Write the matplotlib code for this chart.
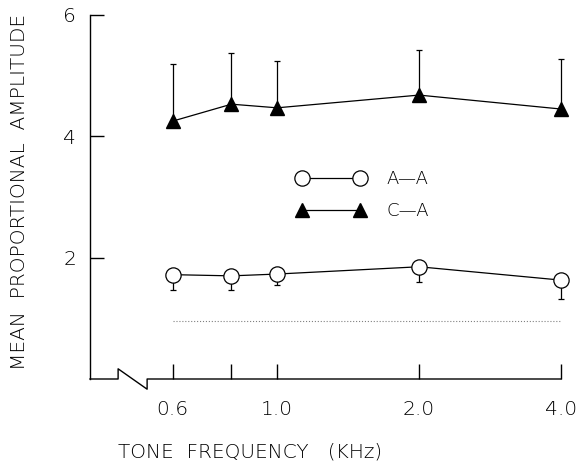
import numpy as np
import matplotlib
matplotlib.use("Agg")
import matplotlib.pyplot as plt
import matplotlib.transforms as mtransforms
from matplotlib.lines import Line2D

# data
freqs = [0.6, 0.8, 1.0, 2.0, 4.0]
aa_mean = [1.72, 1.70, 1.73, 1.85, 1.63]
aa_err = [0.25, 0.23, 0.18, 0.25, 0.31]   # lower bars only
ca_mean = [4.25, 4.53, 4.47, 4.68, 4.45]
ca_err = [0.95, 0.85, 0.78, 0.74, 0.83]   # upper bars only
baseline = 0.95
xtick_vals = [0.6, 0.8, 1.0, 2.0, 4.0]
xtick_labels = ["0.6", "", "1.0", "2.0", "4.0"]
ytick_vals = [2, 4, 6]

plt.rcParams['font.family'] = ['DejaVu Sans']
plt.rcParams['font.weight'] = 200

fig = plt.figure(figsize=(5.79, 4.66), dpi=100)
ax = fig.add_axes([90/579, (466-379)/466, (561-90)/579, (379-15)/466])

ax.set_xscale('log')
ax.set_xlim(0.401, 4.0)
ax.set_ylim(0, 6)

lw = 0.9
# A-A: open circles, lower error bars
eb1 = ax.errorbar(freqs, aa_mean, yerr=[aa_err, [0]*5], fmt='none', ecolor='black',
                  elinewidth=lw, capsize=2.5, capthick=lw)
ax.plot(freqs, aa_mean, '-', color='black', lw=lw, marker='o', ms=11,
        mfc='white', mec='black', mew=0.9, label='A\u2014A', clip_on=False)
# C-A: filled triangles, upper error bars
eb2 = ax.errorbar(freqs, ca_mean, yerr=[[0]*5, ca_err], fmt='none', ecolor='black',
                  elinewidth=lw, capsize=2.5, capthick=lw)
ax.plot(freqs, ca_mean, '-', color='black', lw=lw, marker='^', ms=10,
        mfc='black', mec='black', label='C\u2014A', clip_on=False)
for eb in (eb1, eb2):
    for art in eb.get_children():
        art.set_clip_on(False)

ax.plot([freqs[0], freqs[-1]], [baseline, baseline], ':', color='gray', lw=0.8)

# axes styling
for s in ['top', 'right', 'bottom']:
    ax.spines[s].set_visible(False)
ax.spines['left'].set_linewidth(1.0)
ax.set_yticks(ytick_vals)
ax.set_xticks(xtick_vals)
ax.set_xticklabels(xtick_labels)
ax.xaxis.set_minor_locator(matplotlib.ticker.NullLocator())
ax.tick_params(axis='y', direction='in', length=10, width=1.0, pad=10, labelsize=14.5)
ax.tick_params(axis='x', direction='in', length=11, width=1.0, pad=15, labelsize=14.5)

# bottom axis with break
trans = mtransforms.blended_transform_factory(ax.transData, ax.transAxes)
brk_a, brk_b, brk_h = 0.46, 0.53, 0.028
ax.add_line(Line2D([0.401, brk_a, brk_a, brk_b, brk_b, 4.0],
                   [0, 0, brk_h, -brk_h, 0, 0], color='black', lw=1.0,
                   transform=trans, clip_on=False))

fig.text(250/579, 1-452/466, 'TONE  FREQUENCY   (KHz)', fontsize=14.5,
         ha='center', va='center')
fig.text(20/579, 1-192/466, 'MEAN  PROPORTIONAL  AMPLITUDE', fontsize=14.5,
         ha='center', va='center', rotation=90)

leg = ax.legend(loc='upper left', bbox_to_anchor=(297/579, 1-170/466),
                bbox_transform=fig.transFigure, frameon=False, numpoints=2,
                borderpad=0, borderaxespad=0, fontsize=13, handlelength=3.77,
                handletextpad=1.2, labelspacing=0.8)

fig.savefig('out.png', dpi=100)
